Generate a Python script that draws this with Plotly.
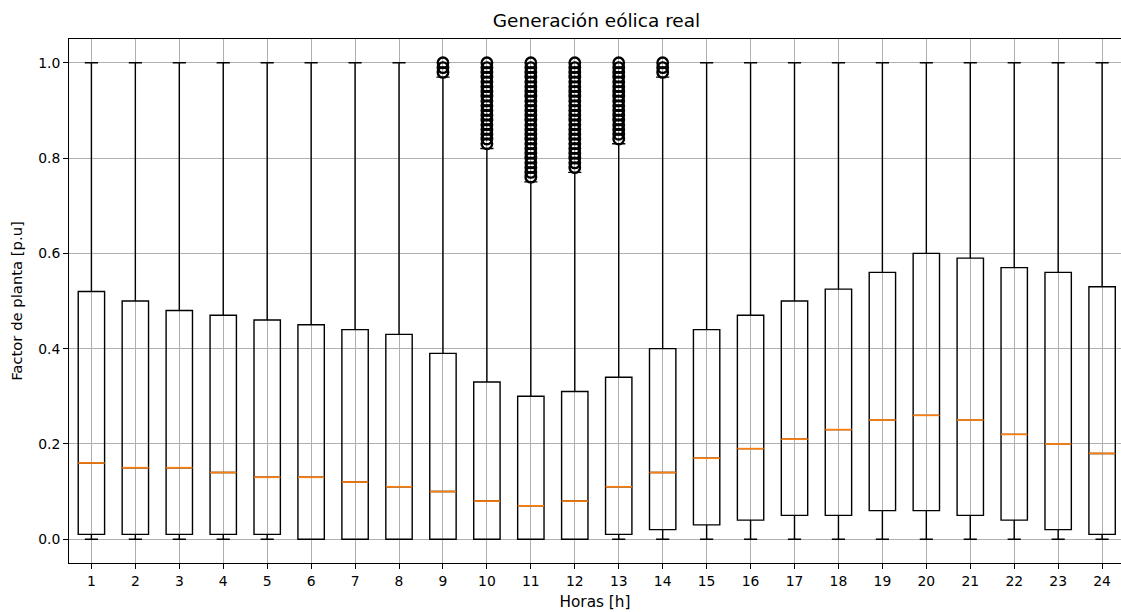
import plotly.graph_objects as go

hours = list(range(1, 25))
q1 = [0.01, 0.01, 0.01, 0.01, 0.01, 0.0, 0.0, 0.0, 0.0, 0.0, 0.0, 0.0,
      0.01, 0.02, 0.03, 0.04, 0.05, 0.05, 0.06, 0.06, 0.05, 0.04, 0.02, 0.01]
median = [0.16, 0.15, 0.15, 0.14, 0.13, 0.13, 0.12, 0.11, 0.10, 0.08, 0.07, 0.08,
          0.11, 0.14, 0.17, 0.19, 0.21, 0.23, 0.25, 0.26, 0.25, 0.22, 0.20, 0.18]
q3 = [0.52, 0.50, 0.48, 0.47, 0.46, 0.45, 0.44, 0.43, 0.39, 0.33, 0.30, 0.31,
      0.34, 0.40, 0.44, 0.47, 0.50, 0.525, 0.56, 0.60, 0.59, 0.57, 0.56, 0.53]
whisker_low = [0.0] * 24
whisker_high = [1.0, 1.0, 1.0, 1.0, 1.0, 1.0, 1.0, 1.0, 0.97, 0.82, 0.75, 0.77,
                0.83, 0.97, 1.0, 1.0, 1.0, 1.0, 1.0, 1.0, 1.0, 1.0, 1.0, 1.0]

outliers_h9 = [0.98, 0.99, 1.0]
outliers_h10 = [0.83, 0.84, 0.85, 0.86, 0.87, 0.88, 0.89, 0.90, 0.91, 0.92,
                0.93, 0.94, 0.95, 0.96, 0.97, 0.98, 0.99, 1.0]
outliers_h11 = [0.76, 0.77, 0.78, 0.79, 0.80, 0.81, 0.82, 0.83, 0.84, 0.85,
                0.86, 0.87, 0.88, 0.89, 0.90, 0.91, 0.92, 0.93, 0.94, 0.95,
                0.96, 0.97, 0.98, 0.99, 1.0]
outliers_h12 = [0.78, 0.79, 0.80, 0.81, 0.82, 0.83, 0.84, 0.85, 0.86, 0.87,
                0.88, 0.89, 0.90, 0.91, 0.92, 0.93, 0.94, 0.95, 0.96, 0.97,
                0.98, 0.99, 1.0]
outliers_h13 = [0.84, 0.85, 0.86, 0.87, 0.88, 0.89, 0.90, 0.91, 0.92, 0.93,
                0.94, 0.95, 0.96, 0.97, 0.98, 0.99, 1.0]
outliers_h14 = [0.98, 0.99, 1.0]
outliers = {9: outliers_h9, 10: outliers_h10, 11: outliers_h11,
            12: outliers_h12, 13: outliers_h13, 14: outliers_h14}

tick_vals_y = [0.0, 0.2, 0.4, 0.6, 0.8, 1.0]

FONT = "DejaVu Sans"
BOX_W = 0.6

fig = go.Figure()

fig.add_trace(go.Box(
    x=hours, q1=q1, median=median, q3=q3,
    lowerfence=whisker_low, upperfence=whisker_high,
    width=BOX_W, whiskerwidth=0.5,
    fillcolor="rgba(0,0,0,0)",
    line=dict(color="black", width=1.4),
    boxpoints=False, showlegend=False, hoverinfo="skip",
))

# orange median lines
mx, my = [], []
for h, m in zip(hours, median):
    mx += [h - BOX_W / 2, h + BOX_W / 2, None]
    my += [m, m, None]
fig.add_trace(go.Scatter(x=mx, y=my, mode="lines",
                         line=dict(color="#ff7f0e", width=1.7),
                         showlegend=False, hoverinfo="skip"))

# fliers
ox, oy = [], []
for h, vals in outliers.items():
    ox += [h] * len(vals)
    oy += vals
fig.add_trace(go.Scatter(x=ox, y=oy, mode="markers",
                         marker=dict(symbol="circle-open", size=10.5, color="black",
                                     line=dict(width=2.4, color="black")),
                         showlegend=False, hoverinfo="skip"))

fig.update_layout(
    width=1121, height=612,
    margin=dict(l=69, r=0, t=39, b=49),
    paper_bgcolor="white", plot_bgcolor="white",
    font=dict(family=FONT, size=13.9, color="black"),
    title=dict(text="Generación eólica real", x=596.5 / 1121, xanchor="center",
               y=1 - 21 / 612, yanchor="middle", yref="container",
               font=dict(family=FONT, size=18.5, color="black")),
)
fig.update_xaxes(
    range=[0.49, 24.43], tickmode="array", tickvals=hours,
    ticktext=[str(h) for h in hours], automargin=False,
    showgrid=True, gridcolor="#b0b0b0", gridwidth=1,
    showline=True, linecolor="black", linewidth=1, mirror=True,
    ticks="outside", ticklen=5, tickwidth=1, tickcolor="black",
    zeroline=False,
    title=dict(text="Horas [h]", standoff=8, font=dict(family=FONT, size=15.3)),
)
fig.update_yaxes(
    range=[-0.05, 1.05], tickmode="array", tickvals=tick_vals_y,
    ticktext=[f"{v:.1f}" for v in tick_vals_y], automargin=False,
    showgrid=True, gridcolor="#b0b0b0", gridwidth=1,
    showline=True, linecolor="black", linewidth=1, mirror=False,
    ticks="outside", ticklen=5, tickwidth=1, tickcolor="black",
    zeroline=False,
    title=dict(text="Factor de planta [p.u]", standoff=11, font=dict(family=FONT, size=14.8)),
)

fig.write_html(
    "out.html",
    config={"displayModeBar": False},
    post_script="document.body.style.margin='0';document.body.style.padding='0';"
                "document.documentElement.style.overflow='hidden';",
)
